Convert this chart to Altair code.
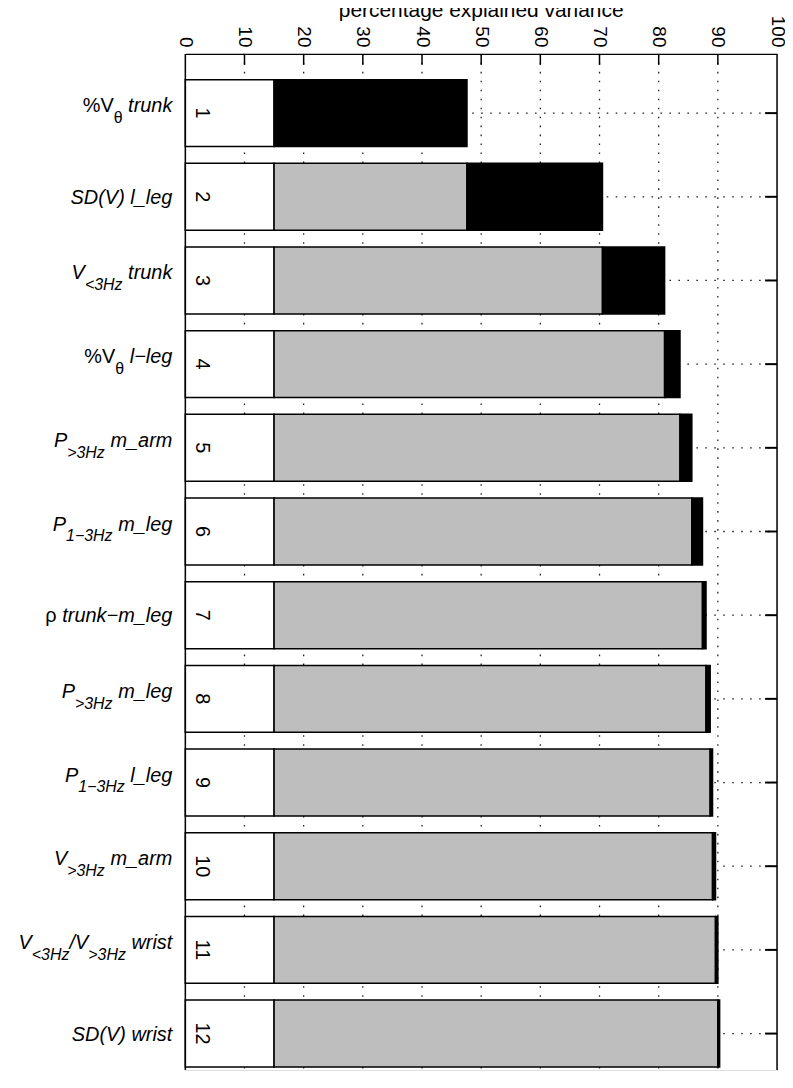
import altair as alt
import pandas as pd

# ---------------- data ----------------
rows = list(range(1, 13))
cumulative = [47.6, 70.5, 81.0, 83.6, 85.6, 87.4, 88.0, 88.7, 89.1, 89.6, 90.0, 90.3]
base_share = 15.0
tick_values = list(range(0, 101, 10))
grid_values = list(range(10, 100, 10))
axis_title = "percentage explained variance"

# (text, main/sub, italic/normal)
label_parts = [
    [("%V", "main", "normal"), ("θ", "sub", "normal"), (" trunk", "main", "italic")],
    [("SD(V) l_leg", "main", "italic")],
    [("V", "main", "italic"), ("<3Hz", "sub", "italic"), (" trunk", "main", "italic")],
    [("%V", "main", "normal"), ("θ", "sub", "normal"), (" l−leg", "main", "italic")],
    [("P", "main", "italic"), (">3Hz", "sub", "italic"), (" m_arm", "main", "italic")],
    [("P", "main", "italic"), ("1−3Hz", "sub", "italic"), (" m_leg", "main", "italic")],
    [("ρ", "main", "normal"), (" trunk−m_leg", "main", "italic")],
    [("P", "main", "italic"), (">3Hz", "sub", "italic"), (" m_leg", "main", "italic")],
    [("P", "main", "italic"), ("1−3Hz", "sub", "italic"), (" l_leg", "main", "italic")],
    [("V", "main", "italic"), (">3Hz", "sub", "italic"), (" m_arm", "main", "italic")],
    [("V", "main", "italic"), ("<3Hz", "sub", "italic"), ("/V", "main", "italic"),
     (">3Hz", "sub", "italic"), (" wrist", "main", "italic")],
    [("SD(V) wrist", "main", "italic")],
]

# ---------------- layout / style ----------------
W, H = 594, 1020
FONT = "Liberation Sans"
MAIN_FS, SUB_FS = 20, 16
LABEL_RIGHT = -13

# Arial / Liberation Sans advance widths (per 1000 em)
ADV = {" ": 278, "%": 889, "(": 333, ")": 333, "/": 278, "_": 556, "<": 584, ">": 584,
       "−": 584, "1": 556, "3": 556, "D": 722, "H": 722, "P": 667, "S": 667, "V": 667,
       "a": 556, "e": 556, "g": 556, "i": 222, "k": 500, "l": 222, "m": 833, "n": 556,
       "r": 333, "s": 500, "t": 278, "u": 556, "w": 722, "z": 500, "θ": 556, "ρ": 575}


def text_width(s, fs):
    return sum(ADV.get(c, 556) for c in s) * fs / 1000.0


seg_records = []
for r, parts in zip(rows, label_parts):
    has_sub = int(any(k == "sub" for _, k, _ in parts))
    right = LABEL_RIGHT
    for txt, kind, style in reversed(parts):
        fs = MAIN_FS if kind == "main" else SUB_FS
        seg_records.append({"row": r, "txt": txt.strip(), "px": right,
                            "kind": kind, "style": style, "hassub": has_sub})
        right -= text_width(txt, fs)
seg_df = pd.DataFrame(seg_records)

bar_records = []
prev = None
for r, c in zip(rows, cumulative):
    bar_records.append({"row": r, "x0": 0.0, "x1": base_share, "part": "base"})
    if prev is None:
        bar_records.append({"row": r, "x0": base_share, "x1": c, "part": "added"})
    else:
        bar_records.append({"row": r, "x0": base_share, "x1": prev, "part": "previous"})
        bar_records.append({"row": r, "x0": prev, "x1": c, "part": "added"})
    prev = c
bar_df = pd.DataFrame(bar_records)

row_df = pd.DataFrame({"row": rows, "num": [str(r) for r in rows]})
grid_df = pd.DataFrame({"gv": grid_values})
one_df = pd.DataFrame({"t": [axis_title]})

XS = alt.Scale(domain=[0, 100], nice=False, zero=False)
YS = alt.Scale(domain=[0.292, 0.292 + H / 84.0], nice=False, zero=False, reverse=True)
xaxis = alt.Axis(orient="top", values=tick_values, labelAngle=90, labelFontSize=19,
                 labelFont=FONT, labelColor="black", labelPadding=7, ticks=False,
                 domain=True, domainColor="black", domainWidth=1.5, grid=False,
                 title=None, labelFlush=False, labelOverlap=False)

dotted = dict(color="#222222", strokeWidth=1.3, strokeDash=[1.6, 7.4])

vgrid = alt.Chart(grid_df).mark_rule(**dotted).encode(
    x=alt.X("gv:Q", scale=XS, axis=xaxis),
    y=alt.value(0), y2=alt.value(H))

hgrid = alt.Chart(row_df).mark_rule(**dotted).encode(
    y=alt.Y("row:Q", scale=YS, axis=None),
    x=alt.value(0), x2=alt.value(W))

bars = alt.Chart(bar_df).transform_calculate(
    y0="datum.row - 0.4", y1="datum.row + 0.4"
).mark_rect(stroke="black", strokeWidth=1.5).encode(
    x=alt.X("x0:Q", scale=XS, axis=xaxis), x2="x1:Q",
    y=alt.Y("y0:Q", scale=YS, axis=None), y2="y1:Q",
    color=alt.Color("part:N", legend=None,
                    scale=alt.Scale(domain=["base", "previous", "added"],
                                    range=["white", "#bebebe", "black"])))

top_ticks = alt.Chart(grid_df).mark_rule(color="black", strokeWidth=1.5).encode(
    x=alt.X("gv:Q", scale=XS, axis=xaxis),
    y=alt.value(0), y2=alt.value(11))

right_ticks = alt.Chart(row_df).mark_rule(color="black", strokeWidth=2).encode(
    y=alt.Y("row:Q", scale=YS, axis=None),
    x=alt.value(W - 12), x2=alt.value(W))

left_border = alt.Chart(one_df).mark_rule(color="black", strokeWidth=1.5).encode(
    x=alt.value(0), y=alt.value(0), y2=alt.value(H))
right_border = alt.Chart(one_df).mark_rule(color="black", strokeWidth=1.5).encode(
    x=alt.value(W), y=alt.value(0), y2=alt.value(H))

nums = alt.Chart(row_df).mark_text(angle=90, align="center", baseline="middle",
                                   font=FONT, fontSize=20, color="black").encode(
    x=alt.value(17), y=alt.Y("row:Q", scale=YS, axis=None), text="num:N")

label_layers = []
for kind, style, hs, dy, fs in [
    ("main", "italic", 1, -1, MAIN_FS), ("main", "normal", 1, -1, MAIN_FS),
    ("main", "italic", 0, 7, MAIN_FS), ("main", "normal", 0, 7, MAIN_FS),
    ("sub", "italic", 1, 10, SUB_FS), ("sub", "normal", 1, 10, SUB_FS),
]:
    label_layers.append(
        alt.Chart(seg_df).transform_filter(
            f"datum.kind == '{kind}' && datum.style == '{style}' && datum.hassub == {hs}"
        ).mark_text(align="right", baseline="alphabetic", dy=dy, font=FONT,
                    fontSize=fs, fontStyle=style, color="black").encode(
            x=alt.X("px:Q", scale=None, axis=None),
            y=alt.Y("row:Q", scale=YS, axis=None),
            text="txt:N"))

title = alt.Chart(one_df).mark_text(align="center", baseline="alphabetic", font=FONT,
                                    fontSize=21, color="black").encode(
    x=alt.value(W / 2), y=alt.value(-37), text="t:N")

chart = alt.layer(vgrid, hgrid, bars, top_ticks, right_ticks, left_border, right_border,
                  nums, *label_layers, title).properties(
    width=W, height=H,
    autosize=alt.AutoSizeParams(type="none"),
    padding={"left": 178, "top": 44, "right": 8, "bottom": 0},
).configure_view(stroke=None).configure(background="white")

chart.save("out.html", embed_options={"renderer": "svg", "actions": False})
